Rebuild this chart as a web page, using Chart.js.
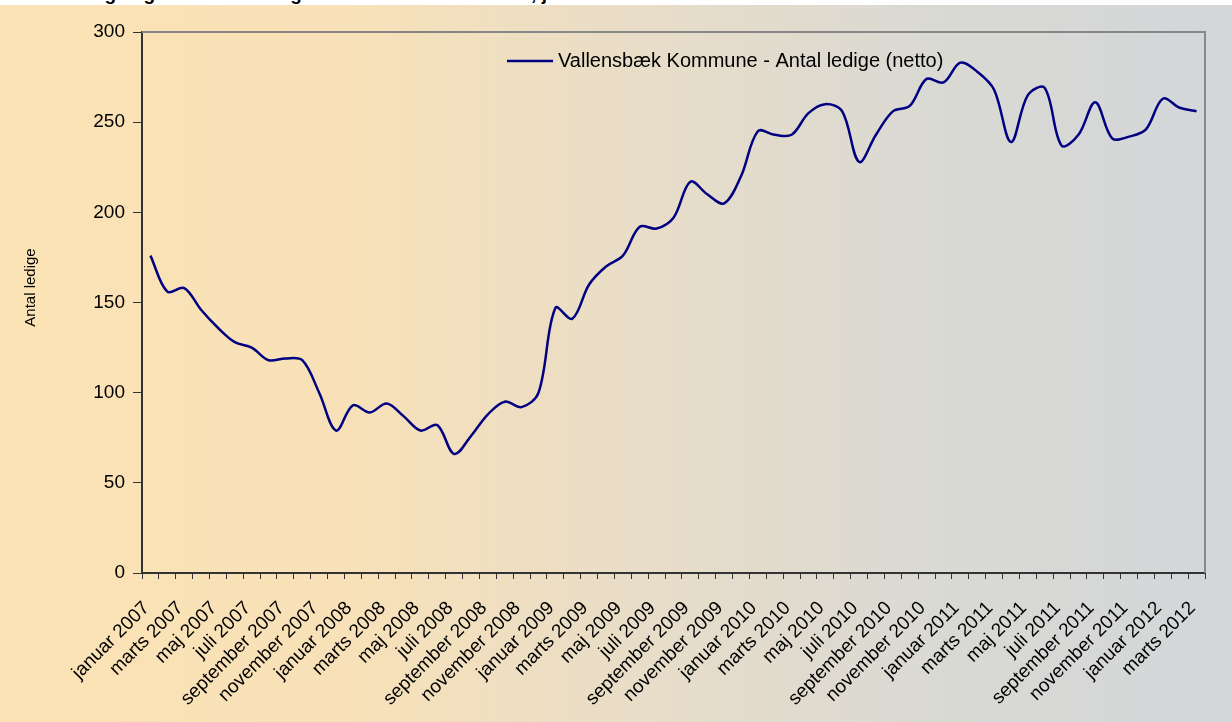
<!DOCTYPE html>
<html><head><meta charset="utf-8">
<script src="https://cdn.jsdelivr.net/npm/chart.js@4/dist/chart.umd.min.js"></script>
<style>
html,body{margin:0;padding:0;background:#fff;width:1232px;height:722px;overflow:hidden;}
#bg{position:absolute;left:0;top:5px;width:1232px;height:717px;
 background:linear-gradient(to right,#FBE3B5 0%,#F8E1B8 28%,#E8DDC8 52%,#DAD9D3 75%,#D3D7DA 100%);}
#title{position:absolute;left:19px;top:-16px;font:bold 19px "Liberation Sans",Arial,sans-serif;line-height:19px;white-space:nowrap;color:#000;}
#wrap{position:absolute;left:0;top:0;width:1232px;height:722px;}
</style></head><body>
<div id="bg"></div>
<div id="title">Antal ledige og forsikrede ledige i Vallensbæk Kommune, januar 2007 - marts 2012</div>
<div id="wrap"><canvas id="c" width="1232" height="722"></canvas></div>
<script>
const monthNames = ['januar','februar','marts','april','maj','juni','juli','august','september','oktober','november','december'];
const years = [2007, 2008, 2009, 2010, 2011, 2012];
const categories = [];
years.forEach(y => monthNames.forEach(m => { if (categories.length < 63) categories.push(m + ' ' + y); }));
const seriesLabel = 'Vallensbæk Kommune - Antal ledige (netto)';
const yAxisTitle = 'Antal ledige';
const antalLedige = [
  176, 156, 158, 146, 136, 128, 125, 118, 119, 118, 100, 79,
  93, 89, 94, 87, 79, 82, 66, 76, 88, 95, 92, 100,
  147, 141, 160, 170, 176, 192, 191, 197, 217, 210, 205, 220,
  245, 243, 243, 255, 260, 256, 228, 243, 256, 259, 274, 272,
  283, 278, 268, 239, 265, 269, 237, 243, 261, 241, 242, 246,
  263, 258, 256
];
const yTicks = [0, 50, 100, 150, 200, 250, 300];

const FONT = '"Liberation Sans", Arial, sans-serif';

const frame = {
  id: 'frame',
  beforeDatasetsDraw(chart) {
    const a = chart.chartArea, ctx = chart.ctx;
    ctx.save();
    ctx.strokeStyle = '#878787';
    ctx.lineWidth = 2;
    ctx.beginPath();
    ctx.moveTo(a.left, a.top);
    ctx.lineTo(a.right, a.top);
    ctx.lineTo(a.right, a.bottom);
    ctx.stroke();
    ctx.fillStyle = '#000';
    ctx.font = '15px ' + FONT;
    ctx.textAlign = 'center';
    ctx.textBaseline = 'middle';
    ctx.translate(31, (a.top + a.bottom) / 2 - 15);
    ctx.rotate(-Math.PI / 2);
    ctx.fillText(yAxisTitle, 0, 0);
    ctx.restore();
  }
};

const legendInside = {
  id: 'legendInside',
  afterDatasetsDraw(chart) {
    const a = chart.chartArea, ctx = chart.ctx;
    const ds = chart.data.datasets[0];
    const x = a.left + 365, y = a.top + 29;
    ctx.save();
    ctx.strokeStyle = ds.borderColor;
    ctx.lineWidth = 2.5;
    ctx.beginPath();
    ctx.moveTo(x, y);
    ctx.lineTo(x + 46, y);
    ctx.stroke();
    ctx.fillStyle = '#000';
    ctx.font = '20px ' + FONT;
    ctx.textBaseline = 'middle';
    ctx.textAlign = 'left';
    ctx.fillText(ds.label, x + 51, y);
    ctx.restore();
  }
};

new Chart(document.getElementById('c'), {
  type: 'line',
  data: {
    labels: categories,
    datasets: [{
      label: seriesLabel,
      data: antalLedige,
      borderColor: '#000080',
      borderWidth: 2.5,
      pointRadius: 0,
      pointHoverRadius: 0,
      tension: 0.35,
      fill: false
    }]
  },
  options: {
    responsive: false,
    animation: false,
    events: [],
    layout: { padding: { top: 32, right: 27, left: 0, bottom: 0 } },
    plugins: { legend: { display: false }, tooltip: { enabled: false }, title: { display: false } },
    scales: {
      x: {
        offset: true,
        grid: { display: true, offset: true, drawOnChartArea: false, drawTicks: true, tickLength: 6, color: '#333', tickWidth: 1 },
        border: { display: true, color: '#333', width: 2 },
        ticks: {
          autoSkip: false, minRotation: 45, maxRotation: 45, padding: 18, labelOffset: -4,
          color: '#000', font: { family: FONT, size: 19 },
          callback: (v, i) => (i % 2 === 0 ? categories[i] : '')
        },
        afterFit: s => { s.height = 149; }
      },
      y: {
        min: 0, max: 300,
        afterBuildTicks: s => { s.ticks = yTicks.map(v => ({ value: v })); },
        grid: { drawOnChartArea: false, drawTicks: true, tickLength: 9, color: '#333' },
        border: { display: true, color: '#333', width: 2 },
        ticks: { padding: 8, color: '#000', font: { family: FONT, size: 19 } },
        title: { display: false },
        afterFit: s => { s.width = 142; }
      }
    }
  },
  plugins: [frame, legendInside]
});
</script>
</body></html>
